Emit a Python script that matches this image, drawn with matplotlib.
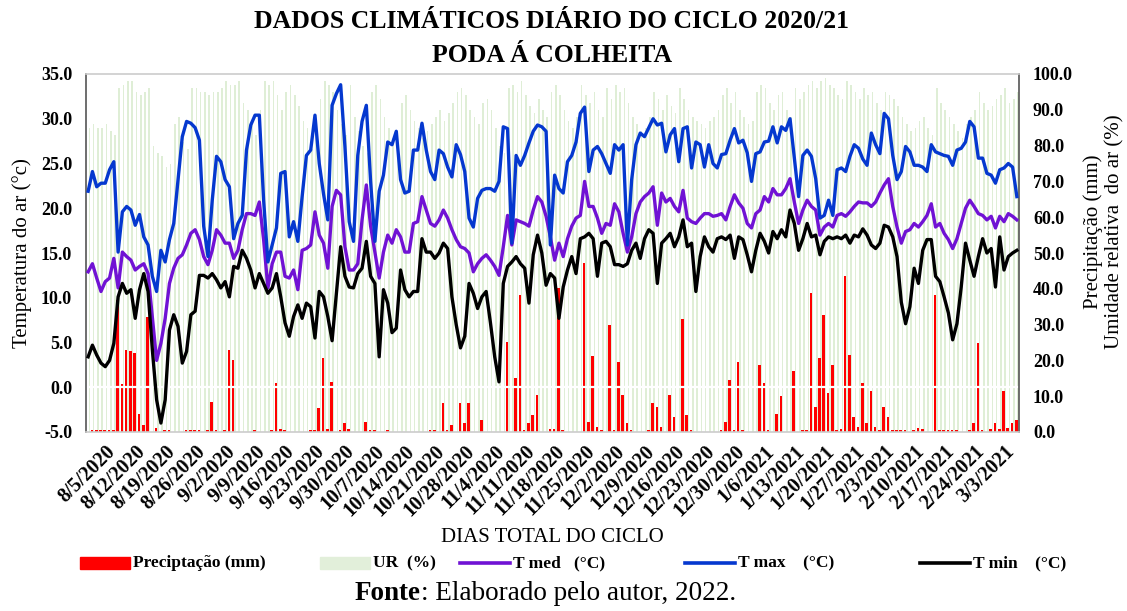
import datetime as dt
import matplotlib
matplotlib.use("Agg")
import matplotlib.pyplot as plt
from matplotlib.lines import Line2D
from matplotlib.patches import Rectangle
from matplotlib.ticker import FormatStrFormatter
import numpy as np

plt.rcParams['font.family'] = ['Liberation Serif', 'DejaVu Serif']

# daily series, 1 Aug 2020 -> 6 Mar 2021
start = dt.date(2020, 8, 1)

t_max = [
    21.9, 24.1, 22.4, 22.8, 22.8, 24.3, 25.2, 15.1, 19.6, 20.2,
    19.8, 18.1, 19.3, 16.8, 15.9, 12.4, 10.7, 15.3, 14.0, 16.5,
    18.3, 23.2, 28.0, 29.7, 29.5, 29.0, 27.6, 18.0, 14.6, 20.9,
    25.8, 25.2, 23.2, 22.4, 16.6, 18.3, 19.2, 26.5, 29.3, 30.4,
    30.4, 20.9, 14.0, 15.9, 17.8, 23.9, 24.1, 16.8, 18.5, 16.3,
    21.3, 25.9, 26.5, 30.4, 25.0, 21.6, 18.7, 31.5, 32.8, 33.8,
    26.9, 18.5, 16.3, 25.9, 29.7, 31.5, 23.0, 16.3, 21.9, 23.7,
    27.4, 27.1, 28.6, 23.2, 21.7, 21.9, 26.5, 26.5, 29.5, 26.5,
    24.1, 23.2, 26.5, 26.1, 24.6, 23.5, 27.1, 26.0, 24.1, 18.9,
    17.9, 21.1, 22.0, 22.2, 22.2, 21.9, 23.0, 29.1, 28.9, 16.1,
    25.9, 24.8, 25.9, 27.3, 28.6, 29.3, 29.1, 28.6, 15.9, 23.7,
    22.2, 21.7, 25.2, 25.9, 27.4, 30.6, 31.3, 24.1, 26.5, 26.9,
    26.1, 25.0, 23.9, 27.1, 26.5, 27.1, 15.9, 23.2, 27.1, 28.4,
    28.0, 29.0, 30.0, 29.3, 29.5, 26.3, 28.2, 28.9, 25.2, 28.9,
    29.1, 24.5, 27.4, 27.1, 24.6, 27.1, 25.0, 24.5, 26.0, 26.1,
    27.6, 28.9, 27.3, 27.6, 26.2, 23.0, 26.1, 26.3, 27.4, 27.5,
    29.1, 27.3, 29.1, 28.7, 30.0, 25.6, 21.3, 25.9, 26.5, 25.8,
    23.3, 18.9, 19.2, 20.9, 19.2, 24.3, 24.5, 24.1, 25.8, 27.1,
    26.7, 25.5, 24.8, 28.4, 27.1, 26.1, 30.6, 30.0, 25.9, 23.2,
    24.1, 26.9, 26.3, 24.8, 24.8, 24.6, 24.1, 27.1, 26.3, 26.1,
    25.9, 25.8, 24.8, 26.5, 26.7, 27.4, 29.7, 29.1, 25.6, 25.6,
    23.9, 23.7, 22.8, 24.3, 24.5, 25.0, 24.6, 21.3,
]

t_med = [
    12.9, 13.8, 12.2, 10.7, 11.8, 12.2, 14.4, 11.1, 15.1, 14.6,
    14.2, 13.1, 13.5, 13.8, 12.7, 7.9, 3.0, 4.9, 7.7, 11.6,
    13.3, 14.4, 14.8, 15.9, 17.2, 17.6, 16.5, 14.6, 13.7, 15.3,
    17.6, 17.0, 16.1, 16.1, 14.4, 15.3, 17.6, 19.4, 19.4, 19.2,
    20.7, 16.5, 11.1, 13.8, 15.1, 15.1, 12.4, 12.2, 13.1, 10.9,
    15.3, 15.5, 15.9, 19.6, 17.0, 16.1, 13.3, 20.2, 22.0, 21.5,
    15.7, 13.1, 13.1, 13.8, 18.7, 22.6, 18.0, 15.1, 12.2, 15.1,
    17.0, 16.1, 17.6, 16.8, 15.1, 15.1, 18.3, 18.5, 21.3, 19.8,
    18.3, 18.0, 18.7, 19.8, 18.9, 17.6, 16.5, 15.7, 15.5, 15.0,
    12.9, 13.8, 14.4, 14.8, 14.2, 13.5, 12.5, 15.7, 19.2, 15.9,
    18.7, 18.5, 18.3, 18.0, 19.8, 21.3, 20.7, 19.1, 16.8, 14.2,
    16.1, 14.6, 16.6, 18.0, 18.9, 19.2, 23.0, 20.2, 20.2, 18.9,
    17.2, 18.3, 18.1, 20.5, 19.6, 17.2, 15.1, 16.8, 19.4, 20.7,
    21.3, 21.7, 22.4, 18.1, 21.7, 20.7, 21.1, 20.2, 19.6, 22.0,
    18.9, 18.5, 18.3, 18.9, 19.4, 19.4, 19.1, 19.2, 19.4, 18.7,
    20.2, 21.5, 20.6, 20.0, 18.3, 17.8, 19.4, 19.8, 21.3, 20.7,
    22.2, 21.5, 21.5, 22.2, 23.3, 20.7, 18.3, 19.8, 20.9, 20.2,
    19.8, 17.0, 17.9, 18.3, 17.9, 19.2, 19.4, 19.1, 19.6, 20.2,
    20.7, 20.6, 20.6, 20.2, 20.7, 21.7, 22.6, 23.3, 20.2, 17.9,
    16.1, 17.4, 17.6, 18.3, 17.9, 18.5, 19.2, 20.5, 17.9, 18.3,
    17.2, 16.5, 15.5, 16.6, 18.3, 20.0, 20.9, 20.2, 19.4, 19.2,
    18.7, 19.1, 17.8, 19.1, 18.5, 19.4, 19.1, 18.7,
]

t_min = [
    3.4, 4.7, 3.6, 2.7, 2.3, 3.0, 4.9, 10.1, 11.6, 10.5,
    10.9, 7.7, 10.9, 12.7, 10.7, 4.2, -1.4, -4.0, -1.4, 6.4,
    8.1, 6.8, 2.7, 4.0, 8.1, 8.5, 12.5, 12.5, 12.2, 12.7,
    12.0, 11.1, 11.8, 10.1, 13.5, 13.3, 15.3, 14.4, 13.1, 11.1,
    12.7, 11.6, 10.5, 11.1, 12.7, 10.1, 7.2, 5.7, 7.9, 9.2,
    7.7, 9.4, 9.0, 5.5, 10.7, 10.1, 7.9, 5.2, 10.5, 15.7,
    12.4, 11.2, 11.1, 12.7, 13.3, 16.3, 12.4, 11.6, 3.4, 10.9,
    9.4, 6.1, 6.6, 13.1, 10.9, 10.1, 10.7, 10.7, 16.6, 15.1,
    15.1, 14.4, 15.0, 16.1, 15.5, 10.1, 7.0, 4.4, 5.7, 11.6,
    10.5, 8.8, 10.1, 10.7, 7.2, 3.4, 0.6, 11.6, 13.5, 14.0,
    14.6, 13.8, 13.3, 9.4, 14.8, 17.0, 15.0, 11.4, 12.7, 12.2,
    7.7, 11.2, 13.1, 14.6, 12.7, 16.6, 16.8, 17.2, 16.6, 12.4,
    16.1, 16.3, 15.7, 13.7, 13.7, 13.5, 13.8, 15.3, 16.1, 14.4,
    16.6, 17.6, 17.2, 11.6, 16.1, 16.6, 17.2, 15.7, 16.8, 18.7,
    15.7, 16.1, 10.7, 14.6, 16.8, 15.7, 15.1, 16.6, 16.8, 16.5,
    17.0, 14.4, 16.8, 16.5, 14.8, 12.9, 15.3, 17.2, 16.3, 15.0,
    17.4, 16.6, 17.6, 16.8, 19.8, 18.3, 15.3, 16.6, 18.3, 16.8,
    17.0, 14.8, 16.3, 16.8, 16.6, 16.8, 16.6, 17.0, 16.1, 17.0,
    16.8, 17.7, 17.0, 15.9, 15.5, 16.1, 18.1, 17.9, 16.8, 14.6,
    9.5, 7.1, 9.0, 13.3, 11.6, 15.3, 16.5, 16.5, 12.4, 11.8,
    10.1, 8.3, 5.3, 7.1, 11.2, 16.1, 14.2, 12.4, 14.6, 16.6,
    15.0, 15.5, 11.2, 16.8, 13.1, 14.6, 15.0, 15.3,
]

precip = [
    0, 0.6, 0.6, 0.6, 0.6, 0.6, 0.6, 37.0, 13.5, 23.0,
    22.5, 22.0, 5.0, 2.0, 32.0, 0, 1.0, 0, 0.6, 0.6,
    0, 0, 0, 0.6, 0.6, 0.6, 0.6, 0, 0.6, 8.5,
    0.6, 0, 0.6, 23.0, 20.0, 0, 0, 0, 0, 0.6,
    0, 0, 0, 0.6, 13.6, 0.8, 0.6, 0, 0, 0,
    0, 0, 0.6, 0.6, 6.6, 20.6, 0.8, 14.1, 0, 0.6,
    2.4, 0.8, 0, 0, 0, 2.9, 0.6, 0.6, 0, 0,
    0.6, 0, 0, 0, 0, 0, 0, 0, 0, 0,
    0.6, 0.6, 0, 8.0, 0.6, 2.0, 0, 8.0, 2.4, 8.0,
    0, 0, 3.4, 0, 0, 0, 0, 0, 25.2, 0,
    15.0, 38.3, 0.6, 2.4, 4.7, 10.3, 0, 0, 0.8, 0.8,
    40.1, 0.6, 0, 0, 0, 0, 47.2, 2.9, 21.1, 1.5,
    0.6, 0, 30.0, 0.6, 19.6, 10.3, 2.4, 0.6, 0, 0,
    0, 0.6, 8.0, 7.0, 1.5, 0, 10.3, 4.3, 0, 31.5,
    4.7, 0.6, 0, 0, 0, 0, 0, 0, 0.6, 2.9,
    14.5, 0.6, 19.6, 0.6, 0, 0, 0, 18.7, 13.6, 0.6,
    0, 5.0, 10.0, 0, 0, 16.9, 0, 0.6, 0.6, 38.8,
    7.1, 20.6, 32.7, 10.8, 18.7, 0.6, 0.8, 43.5, 21.5, 4.3,
    1.5, 13.6, 2.4, 11.5, 1.5, 0.6, 7.1, 4.3, 0.6, 0.6,
    0.6, 0.6, 0, 0.6, 1.2, 0.8, 0, 0, 38.3, 0.6,
    0.6, 0.6, 0.6, 0.6, 0, 0, 0.6, 2.4, 24.8, 0.6,
    0, 0.8, 2.4, 0.8, 11.5, 1.0, 2.4, 3.4,
]

ur = [
    85, 86, 85, 85, 86, 84, 83, 96, 97, 98,
    98, 95, 94, 95, 96, 80, 78, 77, 74, 75,
    86, 88, 81, 79, 96, 96, 95, 95, 94, 95,
    95, 96, 98, 97, 97, 98, 92, 90, 86, 83,
    90, 98, 97, 98, 94, 90, 95, 97, 94, 91,
    87, 85, 79, 86, 93, 98, 97, 95, 90, 86,
    83, 97, 88, 84, 80, 78, 95, 97, 93, 88,
    85, 82, 80, 92, 94, 90, 87, 85, 82, 84,
    86, 88, 90, 87, 89, 92, 95, 96, 94, 90,
    88, 86, 92, 93, 90, 85, 80, 78, 96, 97,
    95, 98, 94, 91, 89, 93, 90, 88, 95, 97,
    94, 90, 87, 85, 88, 97, 94, 92, 95, 90,
    88, 96, 93, 97, 95, 96, 92, 88, 86, 84,
    85, 88, 95, 93, 90, 94, 91, 89, 96, 93,
    90, 88, 87, 86, 85, 87, 88, 90, 94, 96,
    92, 95, 90, 88, 86, 87, 95, 97, 96, 92,
    90, 94, 95, 90, 88, 96, 93, 95, 97, 98,
    96, 98, 99, 97, 96, 94, 93, 98, 97, 95,
    93, 96, 94, 95, 92, 90, 95, 94, 93, 91,
    88, 86, 84, 85, 87, 88, 85, 83, 96, 92,
    90, 88, 86, 84, 82, 86, 88, 90, 95, 92,
    90, 91, 93, 94, 96, 92, 93, 95,
]

n = len(t_max)
days = np.arange(n)
dates = [start + dt.timedelta(days=int(i)) for i in days]
first_tick = dt.date(2020, 8, 5)
tick_idx = [i for i, d in enumerate(dates) if d >= first_tick and (d - first_tick).days % 7 == 0]
tick_lbl = [f"{dates[i].month}/{dates[i].day}/{dates[i].year}" for i in tick_idx]

W, H = 1127, 611
fig = plt.figure(figsize=(W / 100, H / 100), dpi=100)
ax = fig.add_axes([86 / W, 1 - 432 / H, (1019 - 86) / W, (432 - 74) / H])
ax2 = ax.twinx()

# bars (right axis)
ax2.bar(days + 0.28, ur, width=0.38, color='#dfeed6', linewidth=0, zorder=1)
ax2.bar(days - 0.12, precip, width=0.62, color='#ff0000', linewidth=0, zorder=2)
ax2.set_ylim(0, 100)
ax2.set_yticks(np.arange(0, 101, 10))
ax2.yaxis.set_major_formatter(FormatStrFormatter('%.1f'))
ax2.tick_params(axis='y', length=0, pad=10, labelsize=13)
for lab in ax2.get_yticklabels():
    lab.set_fontweight('bold')
for s in ax2.spines.values():
    s.set_visible(False)

# lines (left axis), drawn above the bars
ax.set_zorder(ax2.get_zorder() + 1)
ax.patch.set_visible(False)
ax.axhline(0, color='white', lw=1.6, zorder=1)
ax.plot(days, t_med, color='#7012d4', lw=2.4, zorder=3)
ax.plot(days, t_max, color='#0538cf', lw=2.4, zorder=4)
ax.plot(days, t_min, color='black', lw=2.4, zorder=5)
ax.set_ylim(-5, 35)
ax.set_xlim(-0.5, n - 0.5)
ax.set_yticks(np.arange(-5, 36, 5))
ax.yaxis.set_major_formatter(FormatStrFormatter('%.1f'))
ax.tick_params(axis='y', length=0, pad=10, labelsize=13)
for lab in ax.get_yticklabels():
    lab.set_fontweight('bold')

ax.set_xticks(tick_idx)
ax.set_xticklabels(tick_lbl, rotation=45, ha='right', va='top',
                   rotation_mode='anchor', fontweight='bold', fontsize=14.5)
ax.tick_params(axis='x', length=0, pad=7)

ax.spines['left'].set_color('#555555')
ax.spines['right'].set_color('#555555')
ax.spines['top'].set_color('#cccccc')
ax.spines['bottom'].set_color('#cccccc')
for s in ax.spines.values():
    s.set_linewidth(1.2)

# titles and axis labels
fig.text(552 / W, 1 - 22 / H, 'DADOS CLIMÁTICOS DIÁRIO DO CICLO 2020/21',
         ha='center', va='center', fontsize=18.5, fontweight='bold')
fig.text(552 / W, 1 - 56 / H, 'PODA Á COLHEITA',
         ha='center', va='center', fontsize=18.5, fontweight='bold')
fig.text(22 / W, 1 - 253 / H, 'Temperatura do ar (°c)', rotation=90,
         ha='center', va='center', fontsize=15)
fig.text(1104 / W, 1 - 232 / H, 'Precipitação (mm)\nUmidade relativa  do ar (%)',
         rotation=90, ha='center', va='center', multialignment='center',
         fontsize=15, linespacing=1.2)
fig.text(552 / W, 1 - 538 / H, 'DIAS TOTAL DO CICLO', ha='center', va='center',
         fontsize=15)

# legend row
ly = 1 - 563 / H
entries = [
    ('patch', '#ff0000', 'Preciptação (mm)', 80),
    ('patch', '#e2efda', 'UR  (%)', 320),
    ('line', '#7012d4', 'T med   (°C)', 460),
    ('line', '#0538cf', 'T max    (°C)', 685),
    ('line', 'black', 'T min    (°C)', 920),
]
for kind, color, label, x0 in entries:
    if kind == 'patch':
        fig.patches.append(Rectangle((x0 / W, ly - 6 / H), 50 / W, 12 / H,
                                     transform=fig.transFigure, color=color))
    else:
        fig.add_artist(Line2D([x0 / W, (x0 + 50) / W], [ly, ly], color=color,
                              lw=2.6, transform=fig.transFigure))
    fig.text((x0 + 53) / W, ly, label, ha='left', va='center',
             fontsize=12.5, fontweight='bold')

# source line: bold "Fonte" followed by the regular text
src = fig.text(355 / W, 1 - 594 / H, 'Fonte', ha='left', va='center',
               fontsize=19.5, fontweight='bold')
ax.annotate(': Elaborado pelo autor, 2022.', xy=(1, 0), xycoords=src,
            ha='left', va='bottom', fontsize=19.5, annotation_clip=False)

fig.savefig('out.png', dpi=100)
